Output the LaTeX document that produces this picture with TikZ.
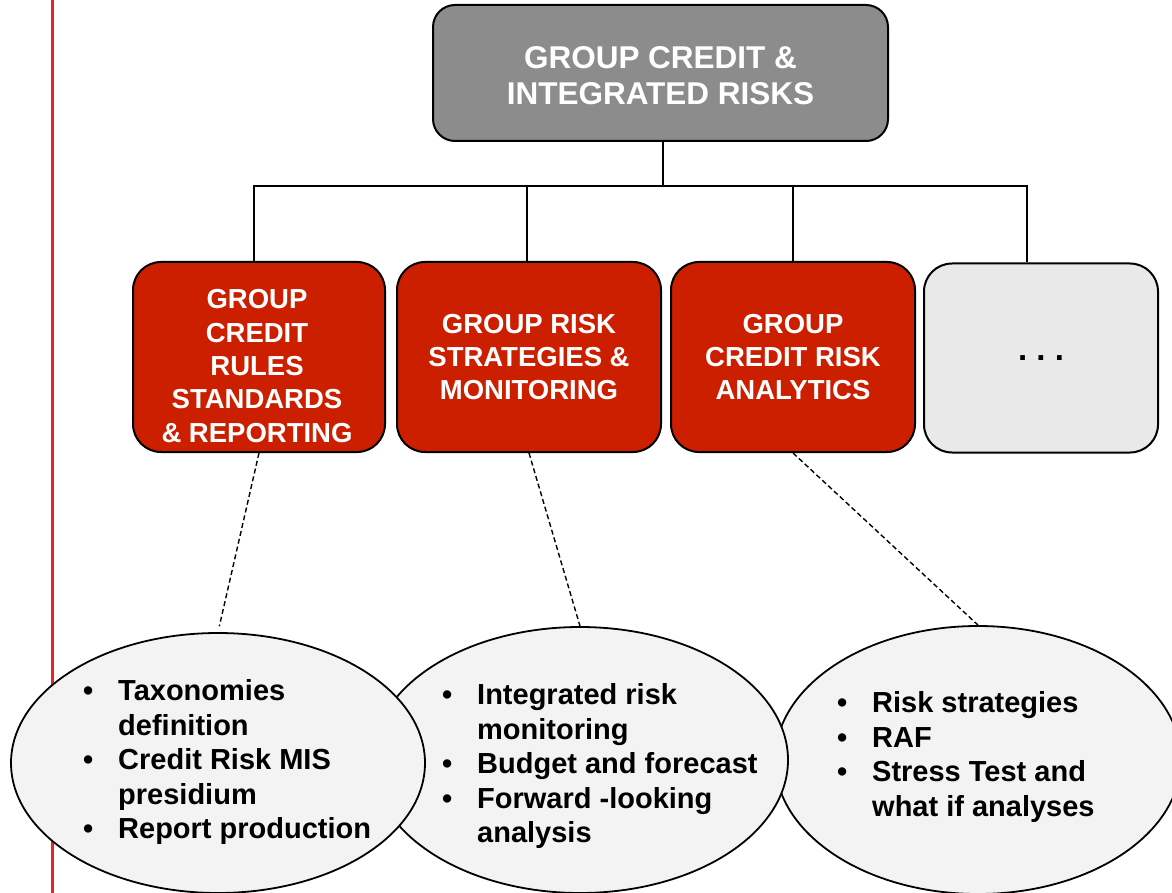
\documentclass[tikz,border=0pt]{standalone}
\usepackage{fontspec}
\setmainfont{Liberation Sans}
\usetikzlibrary{shapes.geometric}
\definecolor{boxred}{RGB}{204,31,0}
\definecolor{topgray}{RGB}{140,140,140}
\definecolor{lightbox}{RGB}{233,233,233}
\definecolor{ellfill}{RGB}{243,243,243}
\definecolor{sideRed}{RGB}{232,38,42}
\tikzset{
  redbox/.style={draw=black, line width=2pt, fill=boxred, rounded corners=28pt, inner sep=0pt, text=white, align=center,
    font=\fontsize{27.5}{33.3}\selectfont\bfseries},
  topbox/.style={draw=black, line width=2pt, fill=topgray, rounded corners=22pt, inner sep=0pt, text=white, align=center,
    font=\fontsize{31.5}{36}\selectfont\bfseries},
  greybox/.style={draw=black, line width=2pt, fill=lightbox, rounded corners=28pt, inner sep=0pt, align=center,
    font=\fontsize{33}{36}\selectfont\bfseries},
  ellnode/.style={draw=black, line width=1.8pt, fill=ellfill, ellipse, inner sep=0pt},
  listtext/.style={anchor=west, inner sep=0pt, align=left, font=\fontsize{29}{34.5}\selectfont\bfseries},
  treeline/.style={draw=black, line width=1.6pt},
  dashline/.style={draw=black, line width=1.4pt, dash pattern=on 5pt off 3pt},
}
\newcommand{\bul}{\llap{\textbullet\hspace{25pt}}}
\begin{document}
\begin{tikzpicture}[x=1pt,y=-1pt]
\useasboundingbox (0,0) rectangle (1172,893);
\fill[white] (0,0) rectangle (1172,893);
% side red line
\coordinate (sideTop) at (52,0);
\coordinate (sideBot) at (52,893);
\draw[sideRed, line width=3pt] (sideTop) -- (sideBot);

% top box
\node[topbox, minimum width=455pt, minimum height=136pt] (top) at (660.5,73) {};
\node[align=center, inner sep=0pt, text=white, font=\fontsize{31.5}{36}\selectfont\bfseries] (tt) at (660.5,76) {GROUP CREDIT \&\\INTEGRATED RISKS};

% second level boxes
\node[redbox, minimum width=252pt, minimum height=190pt] (b1) at (259,357) {};
\node[align=center, inner sep=0pt, text=white, font=\fontsize{27.5}{33.3}\selectfont\bfseries] (t1) at (257,366) {GROUP\\CREDIT\\RULES\\STANDARDS\\\& REPORTING};
\node[redbox, minimum width=264pt, minimum height=190pt] (b2) at (529,357) {GROUP RISK\\STRATEGIES \&\\MONITORING};
\node[redbox, minimum width=244pt, minimum height=190pt] (b3) at (793,357) {GROUP\\CREDIT RISK\\ANALYTICS};
\node[greybox, minimum width=234pt, minimum height=189pt] (b4) at (1041,358) {.\ .\ .};

% tree connectors
\coordinate (bus) at (663,186);
\draw[treeline] (bus) -- (top.south -| bus);
\draw[treeline] ([xshift=-5pt]b1.north) |- (bus) -| ([xshift=-14pt]b4.north);
\draw[treeline] ([xshift=-2pt]b2.north) -- ([xshift=-2pt]b2.north |- bus);
\draw[treeline] (b3.north) -- (b3.north |- bus);

% ellipses (drawn right to left so left ones overlap)
\node[ellnode, minimum width=406pt, minimum height=268pt] (e3) at (978,760) {};
\node[ellnode, minimum width=416pt, minimum height=266pt] (e2) at (580,760) {};
\node[ellnode, minimum width=414pt, minimum height=260pt] (e1) at (218,763) {};

\node[listtext] (l1) at (118,762) {\bul Taxonomies\\definition\\\bul Credit Risk MIS\\presidium\\\bul Report production};
\node[listtext] (l2) at (477,766) {\bul Integrated risk\\monitoring\\\bul Budget and forecast\\\bul Forward -looking\\analysis};
\node[listtext] (l3) at (872,757) {\bul Risk strategies\\\bul RAF\\\bul Stress Test and\\what if analyses};

% dashed connectors
\draw[dashline, shorten >=6pt] (b1.south) -- (e1.north);
\draw[dashline] (b2.south) -- (e2.north);
\draw[dashline] (b3.south) -- (e3.north);
\end{tikzpicture}
\end{document}
